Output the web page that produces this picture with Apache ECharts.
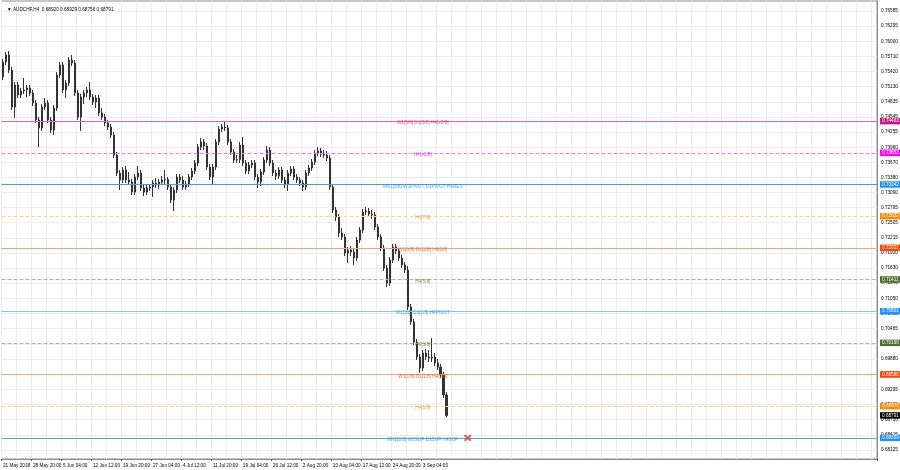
<!DOCTYPE html>
<html><head><meta charset="utf-8">
<script src="https://cdn.jsdelivr.net/npm/echarts@6/dist/echarts.min.js"></script>
<style>html,body{margin:0;padding:0;background:#fff}#c{width:900px;height:470px}</style>
</head><body><div id="c"></div>
<script>
const header = '\u25BC AUDCHF,H4  0.68920 0.68929 0.68756 0.68791';
const timeLabels = ['21 May 2018','28 May 20:00','5 Jun 04:00','12 Jun 12:00','19 Jun 20:00','27 Jun 04:00','4 Jul 12:00','11 Jul 20:00','19 Jul 04:00','26 Jul 12:00','2 Aug 20:00','10 Aug 04:00','17 Aug 12:00','24 Aug 20:00','3 Sep 04:00'];
const priceTicks = ['0.76585','0.76295','0.76000','0.75710','0.75420','0.75130','0.74835','0.74545','0.74255','0.73960','0.73670','0.73380','0.73090','0.72795','0.72505','0.72215','0.71920','0.71630','0.71340','0.71050','0.70755','0.70465','0.70170','0.69880','0.69590','0.69295','0.69005','0.68710','0.68415','0.68125'];

const opens = [0.75313,0.75602,0.75737,0.75448,0.74735,0.75159,0.74967,0.75044,0.75063,0.75101,
0.75005,0.74812,0.74485,0.74331,0.74735,0.74812,0.74485,0.74292,0.74716,0.75352,
0.75545,0.75063,0.75197,0.75641,0.75583,0.75005,0.74542,0.74928,0.75005,0.75063,
0.74928,0.74831,0.74909,0.74619,0.74542,0.74427,0.74350,0.74196,0.73810,0.73463,
0.73328,0.73521,0.73328,0.73290,0.73097,0.73386,0.73463,0.73174,0.73097,0.73174,
0.73194,0.73271,0.73232,0.73290,0.73328,0.73340,0.73194,0.72943,0.73136,0.73386,
0.73328,0.73194,0.73251,0.73386,0.73502,0.73656,0.73964,0.74061,0.73984,0.73579,
0.73386,0.73579,0.74061,0.74311,0.74350,0.74331,0.74061,0.73868,0.73714,0.73720,
0.74003,0.73656,0.73502,0.73617,0.73656,0.73386,0.73290,0.73483,0.73714,0.73906,
0.73656,0.73463,0.73406,0.73521,0.73328,0.73251,0.73463,0.73540,0.73386,0.73328,
0.73271,0.73194,0.73463,0.73560,0.73675,0.73849,0.73887,0.73829,0.73810,0.73752,
0.73194,0.72750,0.72615,0.72307,0.72230,0.71921,0.71979,0.71940,0.71825,0.72172,
0.72365,0.72712,0.72731,0.72673,0.72654,0.72423,0.72230,0.72018,0.71633,0.71343,
0.71787,0.72037,0.71960,0.71825,0.71691,0.71594,0.70881,0.70592,0.70206,0.69917,
0.69706,0.69994,0.69917,0.69898,0.69917,0.69802,0.69725,0.69571,0.69186];
const closes = [0.75602,0.75737,0.75448,0.74735,0.75159,0.74967,0.75044,0.75063,0.75101,0.75005,
0.74812,0.74485,0.74331,0.74735,0.74812,0.74485,0.74292,0.74716,0.75352,0.75545,
0.75063,0.75197,0.75641,0.75583,0.75005,0.74542,0.74928,0.75005,0.75063,0.74928,
0.74831,0.74909,0.74619,0.74542,0.74427,0.74350,0.74196,0.73810,0.73463,0.73328,
0.73521,0.73328,0.73290,0.73097,0.73386,0.73463,0.73174,0.73097,0.73174,0.73194,
0.73271,0.73232,0.73290,0.73328,0.73340,0.73194,0.72943,0.73136,0.73386,0.73328,
0.73194,0.73251,0.73386,0.73502,0.73656,0.73964,0.74061,0.73984,0.73579,0.73386,
0.73579,0.74061,0.74311,0.74350,0.74331,0.74061,0.73868,0.73714,0.73720,0.74003,
0.73656,0.73502,0.73617,0.73656,0.73386,0.73290,0.73483,0.73714,0.73906,0.73656,
0.73463,0.73406,0.73521,0.73328,0.73251,0.73463,0.73540,0.73386,0.73328,0.73271,
0.73194,0.73463,0.73560,0.73675,0.73849,0.73887,0.73829,0.73810,0.73752,0.73194,
0.72750,0.72615,0.72307,0.72230,0.71921,0.71979,0.71940,0.71825,0.72172,0.72365,
0.72712,0.72731,0.72673,0.72654,0.72423,0.72230,0.72018,0.71633,0.71343,0.71787,
0.72037,0.71960,0.71825,0.71691,0.71594,0.70881,0.70592,0.70206,0.69917,0.69706,
0.69994,0.69917,0.69898,0.69917,0.69802,0.69725,0.69571,0.69186,0.68791];
const lows = [0.75255,0.75545,0.75390,0.74677,0.74523,0.74909,0.74909,0.74986,0.74928,0.74947,
0.74754,0.74427,0.73964,0.74273,0.74677,0.74427,0.74234,0.74196,0.74658,0.75294,
0.75005,0.74909,0.75139,0.75525,0.74947,0.74485,0.74273,0.74793,0.74928,0.74870,
0.74774,0.74716,0.74561,0.74485,0.74369,0.74292,0.74138,0.73752,0.73406,0.73136,
0.73271,0.73271,0.73232,0.73040,0.73040,0.73328,0.73117,0.73020,0.73040,0.73117,
0.73001,0.73174,0.73155,0.73232,0.73251,0.73136,0.72885,0.72731,0.73078,0.73271,
0.73136,0.73136,0.73194,0.73328,0.73444,0.73598,0.73906,0.73906,0.73521,0.73328,
0.73251,0.73521,0.74003,0.74254,0.74273,0.74003,0.73810,0.73656,0.73656,0.73656,
0.73598,0.73444,0.73444,0.73560,0.73328,0.73174,0.73213,0.73425,0.73656,0.73598,
0.73406,0.73328,0.73348,0.73271,0.73174,0.73117,0.73406,0.73328,0.73271,0.73213,
0.73117,0.73136,0.73406,0.73502,0.73617,0.73791,0.73771,0.73752,0.73694,0.73136,
0.72693,0.72538,0.72230,0.72172,0.71863,0.71729,0.71863,0.71691,0.71768,0.72114,
0.72307,0.72654,0.72615,0.72577,0.72365,0.72172,0.71960,0.71575,0.71266,0.71285,
0.71729,0.71902,0.71768,0.71633,0.71536,0.70823,0.70535,0.70149,0.69860,0.69609,
0.69648,0.69860,0.69821,0.69821,0.69744,0.69667,0.69513,0.69128,0.68756];
const highs = [0.75660,0.75794,0.75814,0.75506,0.75216,0.75216,0.75101,0.75294,0.75159,0.75159,
0.75063,0.74870,0.74542,0.74793,0.74909,0.74870,0.74542,0.74774,0.75409,0.75602,
0.75602,0.75255,0.75698,0.75737,0.75641,0.75063,0.74986,0.75063,0.75120,0.75216,
0.74986,0.74967,0.74967,0.74716,0.74600,0.74485,0.74408,0.74254,0.73868,0.73521,
0.73579,0.73598,0.73483,0.73348,0.73444,0.73598,0.73521,0.73232,0.73232,0.73251,
0.73328,0.73367,0.73348,0.73406,0.73521,0.73386,0.73251,0.73194,0.73444,0.73444,
0.73406,0.73309,0.73444,0.73560,0.73714,0.74022,0.74138,0.74119,0.74042,0.73637,
0.73637,0.74119,0.74369,0.74408,0.74446,0.74389,0.74119,0.73926,0.73810,0.74061,
0.74157,0.73714,0.73675,0.73714,0.73714,0.73444,0.73540,0.73771,0.73984,0.73964,
0.73714,0.73521,0.73579,0.73579,0.73386,0.73521,0.73598,0.73598,0.73444,0.73386,
0.73328,0.73521,0.73617,0.73733,0.73906,0.73964,0.73945,0.73906,0.73887,0.73810,
0.73251,0.72808,0.72673,0.72404,0.72288,0.72037,0.72056,0.72018,0.72230,0.72423,
0.72770,0.72808,0.72789,0.72750,0.72712,0.72481,0.72288,0.72076,0.71691,0.71844,
0.72095,0.72095,0.72018,0.71883,0.71748,0.71671,0.70939,0.70650,0.70265,0.69975,
0.70052,0.70072,0.70052,0.70284,0.69994,0.69879,0.69783,0.69628,0.69243];

const levelPrices = [0.74463,0.73853,0.73242,0.72632,0.72021,0.71411,0.70801,0.70190,0.69580,0.68970,0.68359];
const levelNames = ['W1[5/8] D1[5/8] H4[+2/8]','H4[+1/8]','MN1[3/8] W1PIVOT D1PIVOT H4RES','H4[7/8]','W1[3/8] D1[3/8] H4[6/8]','H4[5/8]','W1[2/8] D1[2/8] H4PIVOT','H4[3/8]','W1[1/8] D1[1/8] H4[2/8]','H4[1/8]','MN1[2/8] W1SUP D1SUP H4SUP'];
const lastPrice = 0.68791;
const crossPrice = 0.68359;

// ---- styling / layout (not data) ----
const N_CATS = 292;
const LABEL_BAR = 140;
const CROSS_BAR = 155;
const FONT = 'Liberation Sans, Arial, sans-serif';
const FS = 4.7;
const levelStyle = [
 {line:'#ee5fb3', type:'solid', tag:'#c71585', text:'#d01f85'},
 {line:'#f27af2', type:[4,2], tag:'#ff00ff', text:'#e600e6'},
 {line:'#3d9dff', type:'solid', tag:'#1e90ff', text:'#1e88f0'},
 {line:'#ffcf94', type:[4,2], tag:'#ff8c00', text:'#f58a10'},
 {line:'#ff9a7c', type:'solid', tag:'#ff4500', text:'#f5501a'},
 {line:'#aeb2a0', type:[4,2], tag:'#556b2f', text:'#617a36'},
 {line:'#8cc4f8', type:'solid', tag:'#1e90ff', text:'#1e88f0'},
 {line:'#aeb2a0', type:[4,2], tag:'#556b2f', text:'#617a36'},
 {line:'#ff9a7c', type:'solid', tag:'#ff4500', text:'#f5501a'},
 {line:'#ffcf94', type:[4,2], tag:'#ff8c00', text:'#f58a10'},
 {line:'#5aa6f2', type:'solid', tag:'#1e90ff', text:'#1e88f0'}
];

const cats = [];
for (let i = 0; i < N_CATS; i++) cats.push(i % 10 === 0 && timeLabels[i / 10] ? timeLabels[i / 10] : '');
const candles = opens.map((o, i) => [o, closes[i], lows[i], highs[i]]);

const levelLines = levelPrices.map((p, i) => ({
  yAxis: p, name: p.toFixed(5),
  lineStyle: {color: levelStyle[i].line, type: levelStyle[i].type, width: 1},
  label: {backgroundColor: levelStyle[i].tag}
}));
levelLines.push({yAxis: lastPrice, name: lastPrice.toFixed(5),
  lineStyle: {color: 'rgba(0,0,0,0)', width: 0}, label: {backgroundColor: '#000', color: '#fff'}});

const tickLines = priceTicks.map(t => ({yAxis: parseFloat(t), name: t}));

const chart = echarts.init(document.getElementById('c'), null, {renderer: 'canvas'});
chart.setOption({
  animation: false,
  backgroundColor: '#fff',
  title: {text: header, left: 2, top: 2, textStyle: {fontSize: FS, fontWeight: 'normal', color: '#000', fontFamily: FONT}},
  grid: {left: 1, right: 23, top: 1, bottom: 11, show: true, borderColor: '#8c8c8c', borderWidth: 1},
  xAxis: {
    type: 'category', data: cats, boundaryGap: true,
    axisLine: {show: true, lineStyle: {color: '#8c8c8c'}},
    axisTick: {show: true, length: 2, interval: (i) => i % 10 === 0 && i < 150, lineStyle: {color: '#555'}},
    axisLabel: {show: true, interval: (i) => i % 10 === 0, align: 'left', margin: 4, fontSize: FS, color: '#000', fontFamily: FONT, hideOverlap: false},
    splitLine: {show: true, interval: 4, lineStyle: {color: '#ececec', width: 1}}
  },
  yAxis: {
    type: 'value', position: 'right', min: 0.67952, max: 0.76778, scale: true,
    axisLine: {show: true, lineStyle: {color: '#8c8c8c'}},
    axisTick: {show: false}, axisLabel: {show: false}, splitLine: {show: false}
  },
  series: [
    {
      type: 'line', data: [], silent: true, z: 1,
      markLine: {
        silent: true, symbol: ['none', 'none'], z: 1, animation: false, precision: 5,
        lineStyle: {color: '#ececec', type: 'solid', width: 1},
        label: {show: true, position: 'end', distance: 4, formatter: '{b}', fontSize: FS, color: '#000', fontFamily: FONT},
        data: tickLines
      }
    },
    {
      type: 'candlestick', data: candles, barWidth: 2, z: 2,
      itemStyle: {color: '#ffffff', color0: '#333333', borderColor: '#333333', borderColor0: '#333333', borderWidth: 1},
      markLine: {
        silent: true, symbol: ['none', 'none'], z: 4, animation: false, precision: 5,
        label: {show: true, position: 'end', distance: 3, formatter: '{b}', fontSize: FS, color: '#fff', fontFamily: FONT, padding: [1, 2, 0.5, 2]},
        data: levelLines
      }
    },
    {
      type: 'scatter', symbolSize: 1, silent: true, z: 5,
      itemStyle: {color: 'transparent'},
      data: levelPrices.map((p, i) => ({
        value: [LABEL_BAR, p],
        label: {show: true, position: 'inside', offset: [0, 2], formatter: levelNames[i], fontSize: FS, color: levelStyle[i].text, fontFamily: FONT}
      }))
    },
    {
      type: 'scatter', silent: true, z: 6,
      symbol: 'path://M2,0 L5,3 L8,0 L10,2 L7,5 L10,8 L8,10 L5,7 L2,10 L0,8 L3,5 L0,2 Z',
      symbolSize: [8, 7], itemStyle: {color: '#e2392f'},
      data: [[CROSS_BAR, crossPrice]]
    }
  ]
});
</script>
</body></html>
